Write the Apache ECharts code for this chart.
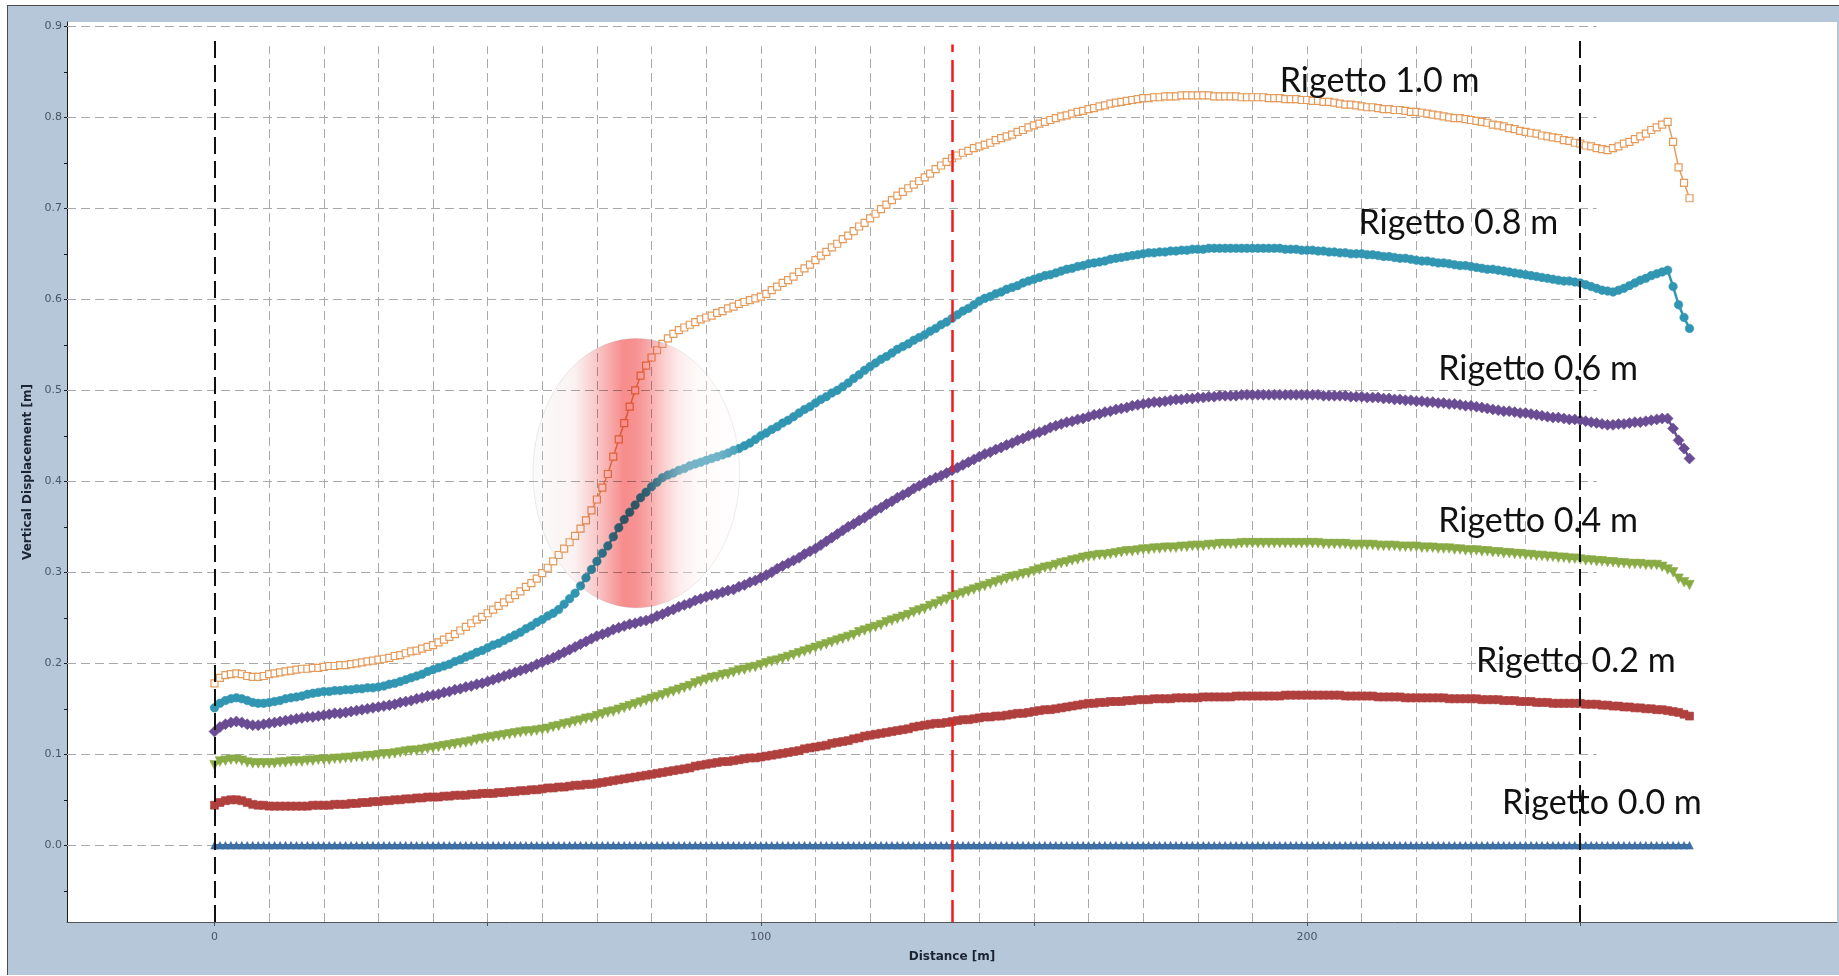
<!DOCTYPE html>
<html>
<head>
<meta charset="utf-8">
<title>Vertical Displacement - Rigetto</title>
<script src="https://cdn.jsdelivr.net/npm/echarts@6/dist/echarts.min.js"></script>
<style>
html,body{margin:0;padding:0;background:#fff;overflow:hidden;}
/* steel-blue frame behind the plot */
.panel{position:absolute;left:7px;top:5px;width:1832px;height:969px;background:#b6c7d9;border-left:1px solid #4d4d4d;border-top:1px solid #4d4d4d;}
#chart{position:absolute;left:0;top:0;width:1839px;height:976px;}
</style>
</head>
<body>
<div class="panel"></div>
<div id="chart"></div>
<script>
/* distance along the profile [m] */
const DIST = [
  0,1,2,3,4,5,6,7,8,9,
  10,11,12,13,14,15,16,17,18,19,
  20,21,22,23,24,25,26,27,28,29,
  30,31,32,33,34,35,36,37,38,39,
  40,41,42,43,44,45,46,47,48,49,
  50,51,52,53,54,55,56,57,58,59,
  60,61,62,63,64,65,66,67,68,69,
  70,71,72,73,74,75,76,77,78,79,
  80,81,82,83,84,85,86,87,88,89,
  90,91,92,93,94,95,96,97,98,99,
  100,101,102,103,104,105,106,107,108,109,
  110,111,112,113,114,115,116,117,118,119,
  120,121,122,123,124,125,126,127,128,129,
  130,131,132,133,134,135,136,137,138,139,
  140,141,142,143,144,145,146,147,148,149,
  150,151,152,153,154,155,156,157,158,159,
  160,161,162,163,164,165,166,167,168,169,
  170,171,172,173,174,175,176,177,178,179,
  180,181,182,183,184,185,186,187,188,189,
  190,191,192,193,194,195,196,197,198,199,
  200,201,202,203,204,205,206,207,208,209,
  210,211,212,213,214,215,216,217,218,219,
  220,221,222,223,224,225,226,227,228,229,
  230,231,232,233,234,235,236,237,238,239,
  240,241,242,243,244,245,246,247,248,249,
  250,251,252,253,254,255,256,257,258,259,
  260,261,262,263,264,265,266,267,268,269,
  270
];

/* vertical displacement for each throw, in mm (converted to m below) */
const R10 = [
  178,184,187,188,189,188,186,185,185,186,
  188,189,190,191,192,193,194,194,195,195,
  196,197,197,198,198,199,200,201,202,203,
  204,205,206,208,209,211,213,214,216,218,
  220,223,226,229,232,236,240,244,248,251,
  255,259,263,267,271,275,279,284,288,293,
  299,305,312,319,326,333,340,348,357,368,
  380,393,408,427,446,464,482,500,516,527,
  536,544,551,557,562,566,569,572,575,578,
  580,582,585,587,590,592,595,597,599,601,
  603,606,610,614,618,621,625,630,634,638,
  643,648,652,657,661,666,670,675,680,684,
  689,694,699,704,709,714,718,722,726,730,
  734,738,743,747,751,755,758,761,763,766,
  768,770,772,775,777,779,781,784,786,789,
  791,793,795,797,799,801,802,804,806,807,
  809,810,812,813,815,816,817,818,819,820,
  821,821,822,822,823,823,823,824,824,824,
  824,824,824,823,823,823,823,823,822,822,
  822,822,822,821,821,821,820,820,820,819,
  819,818,818,817,817,816,815,814,814,813,
  812,811,811,810,809,809,808,808,807,806,
  806,805,804,803,802,801,800,799,799,798,
  797,796,795,794,792,791,790,788,787,785,
  784,783,782,780,779,778,777,775,774,772,
  771,769,768,766,765,764,766,768,771,773,
  776,779,782,786,789,792,795,773,745,728,
  711
];
const R08 = [
  151,156,159,161,162,161,159,157,156,156,
  157,158,159,161,162,163,164,166,167,168,
  169,169,170,170,171,171,172,172,173,173,
  174,175,177,178,180,182,184,186,188,191,
  193,195,197,199,202,204,207,209,212,214,
  217,220,222,225,228,231,234,238,241,245,
  248,252,255,259,265,271,277,285,294,303,
  312,321,329,339,349,358,366,374,382,388,
  394,399,404,407,409,412,414,417,419,421,
  423,425,427,429,431,434,436,439,442,446,
  450,453,457,460,464,467,471,475,479,482,
  486,490,493,497,500,504,508,513,517,522,
  526,530,534,537,541,545,548,551,555,558,
  561,565,568,572,575,579,583,587,590,594,
  598,601,603,606,608,611,613,615,618,620,
  622,624,626,627,629,631,633,634,636,637,
  639,640,641,642,644,645,646,647,648,649,
  650,651,651,652,652,653,653,654,654,655,
  655,655,656,656,656,656,656,656,656,656,
  656,656,656,656,656,656,655,655,655,654,
  654,654,653,653,652,652,651,651,650,650,
  650,649,649,648,647,647,646,645,645,644,
  643,642,642,641,640,640,639,638,637,637,
  636,635,634,633,633,632,631,630,629,628,
  627,626,625,624,623,622,621,620,620,619,
  618,616,614,612,610,609,608,610,612,615,
  618,621,623,626,628,630,632,614,594,580,
  568
];
const R06 = [
  125,130,133,135,136,135,133,132,132,133,
  134,135,136,137,138,139,140,141,141,142,
  143,144,145,145,146,147,148,149,150,151,
  152,153,154,155,157,158,159,161,162,164,
  165,166,168,169,171,172,174,175,177,178,
  180,182,184,186,188,190,192,194,196,199,
  201,204,206,209,212,215,218,221,224,227,
  230,232,234,237,239,241,243,244,246,247,
  249,252,254,257,259,262,264,266,269,271,
  273,275,276,278,280,281,284,286,289,291,
  294,297,300,304,307,310,313,316,320,323,
  326,330,334,338,342,346,350,353,357,360,
  364,368,371,375,378,382,385,388,392,395,
  398,401,404,406,409,412,415,418,421,424,
  427,430,432,435,437,440,442,445,447,450,
  452,454,456,459,461,463,465,466,468,469,
  471,473,474,476,477,479,480,481,483,484,
  485,486,487,487,488,489,490,490,491,491,
  492,492,493,493,494,494,494,494,495,495,
  495,495,495,495,495,495,495,495,495,495,
  495,495,495,494,494,494,494,494,493,493,
  493,492,492,492,491,491,490,490,489,489,
  488,488,487,487,486,486,485,485,484,483,
  483,482,481,480,479,478,477,477,476,475,
  475,474,473,472,471,470,470,469,468,468,
  467,466,465,464,463,462,462,463,463,464,
  465,465,466,467,468,469,469,458,445,436,
  425
];
const R04 = [
  88,92,93,94,94,93,91,90,90,90,
  90,90,91,91,92,92,92,93,93,94,
  94,94,95,95,96,96,97,97,98,98,
  99,100,100,101,102,103,104,104,105,106,
  107,108,109,110,111,112,113,114,116,117,
  118,119,120,121,122,123,124,125,125,126,
  127,128,130,131,133,134,136,137,139,140,
  142,144,146,147,149,151,153,155,157,159,
  161,163,165,167,169,171,173,175,178,180,
  182,184,185,187,188,190,192,193,195,196,
  198,200,202,203,205,207,209,211,213,215,
  217,219,221,223,225,227,229,231,234,236,
  238,240,242,245,247,249,251,253,256,258,
  260,263,265,268,270,273,275,277,279,281,
  283,285,287,289,291,293,295,296,298,299,
  301,303,305,306,308,310,311,313,314,316,
  317,318,319,319,320,321,322,323,323,324,
  325,325,326,326,327,327,327,328,328,329,
  329,329,330,330,331,331,331,331,332,332,
  332,332,332,332,332,332,332,332,332,332,
  332,332,332,331,331,331,331,331,330,330,
  330,330,330,329,329,329,329,328,328,328,
  328,327,327,327,326,326,326,325,325,324,
  324,324,323,323,322,322,321,321,320,320,
  319,319,318,318,317,317,316,316,315,315,
  314,313,313,312,312,311,311,310,310,309,
  309,309,308,308,308,306,303,300,293,289,
  286
];
const R02 = [
  44,47,49,50,50,49,47,45,44,44,
  43,43,43,43,43,43,43,43,44,44,
  44,44,45,45,45,46,46,47,47,48,
  48,49,49,50,50,51,51,52,52,53,
  53,53,54,54,55,55,55,56,56,57,
  57,57,58,58,59,59,60,60,61,61,
  62,63,63,64,64,65,66,66,67,67,
  68,69,70,71,72,73,74,75,76,77,
  78,79,80,81,82,83,84,85,87,88,
  89,90,91,92,92,93,94,95,96,96,
  97,98,99,100,101,102,103,104,106,107,
  108,109,110,112,113,114,115,117,118,120,
  121,122,123,124,125,126,127,128,130,131,
  132,133,134,134,135,136,137,138,138,139,
  140,141,141,142,142,143,144,145,145,146,
  147,148,149,149,150,151,152,153,154,155,
  156,156,157,157,158,158,158,159,159,160,
  160,160,161,161,161,161,162,162,162,162,
  162,163,163,163,163,163,163,164,164,164,
  164,164,164,164,164,164,165,165,165,165,
  165,165,165,165,165,165,165,164,164,164,
  164,164,164,163,163,163,163,163,162,162,
  162,162,162,162,162,162,161,161,161,161,
  161,161,160,160,160,160,159,159,159,158,
  158,158,157,157,157,156,156,156,156,156,
  156,155,155,155,154,154,153,153,152,152,
  151,151,150,150,149,149,148,147,146,144,
  142
];
const R00 = [
  0,0,0,0,0,0,0,0,0,0, 0,0,0,0,0,0,0,0,0,0, 0,0,0,0,0,0,0,0,0,0,
  0,0,0,0,0,0,0,0,0,0, 0,0,0,0,0,0,0,0,0,0, 0,0,0,0,0,0,0,0,0,0,
  0,0,0,0,0,0,0,0,0,0, 0,0,0,0,0,0,0,0,0,0, 0,0,0,0,0,0,0,0,0,0,
  0,0,0,0,0,0,0,0,0,0, 0,0,0,0,0,0,0,0,0,0, 0,0,0,0,0,0,0,0,0,0,
  0,0,0,0,0,0,0,0,0,0, 0,0,0,0,0,0,0,0,0,0, 0,0,0,0,0,0,0,0,0,0,
  0,0,0,0,0,0,0,0,0,0, 0,0,0,0,0,0,0,0,0,0, 0,0,0,0,0,0,0,0,0,0,
  0,0,0,0,0,0,0,0,0,0, 0,0,0,0,0,0,0,0,0,0, 0,0,0,0,0,0,0,0,0,0,
  0,0,0,0,0,0,0,0,0,0, 0,0,0,0,0,0,0,0,0,0, 0,0,0,0,0,0,0,0,0,0,
  0,0,0,0,0,0,0,0,0,0, 0,0,0,0,0,0,0,0,0,0, 0,0,0,0,0,0,0,0,0,0,
  0
];

const NAMES = ['Rigetto 1.0 m', 'Rigetto 0.8 m', 'Rigetto 0.6 m', 'Rigetto 0.4 m', 'Rigetto 0.2 m', 'Rigetto 0.0 m'];
const VALUES = [R10, R08, R06, R04, R02, R00];

/* axis ticks / labels */
const X_LABELS = [0, 100, 200];
const X_TICKS = [0, 50, 100, 150, 200, 250];
const Y_LABELS = [0, 0.1, 0.2, 0.3, 0.4, 0.5, 0.6, 0.7, 0.8, 0.9];
const Y_TICKS = [-0.05, 0, 0.05, 0.1, 0.15, 0.2, 0.25, 0.3, 0.35, 0.4, 0.45, 0.5, 0.55, 0.6, 0.65, 0.7, 0.75, 0.8, 0.85, 0.9];
const GRID_X = [10, 20, 30, 40, 50, 60, 70, 80, 90, 100, 110, 120, 130, 140, 150, 160, 170, 180, 190, 200, 210, 220, 230, 240];
const FAULT_X = [0, 250];   /* black dashed limits */
const SECTION_X = 135;      /* red dashed section */

/* axis window (plot edges) */
const X_MIN = -27, X_MAX = 297;
const Y_MIN = -0.0843, Y_MAX = 0.9047;
const VGRID_TOP = 0.878, HGRID_END = 253;

/* per-series look: markers overlap into a thick band like the original */
const STYLES = [
  { symbol: 'rect', size: 7, color: '#e59a5a', hollow: true },
  { symbol: 'circle', size: 8.5, color: '#3196b2' },
  { symbol: 'diamond', size: 11, color: '#6a4c94' },
  { symbol: 'triangle', size: 9.5, rotate: 180, color: '#89ab45' },
  { symbol: 'rect', size: 8, color: '#b0403e' },
  { symbol: 'triangle', size: 7.5, color: '#3d6fa5' }
];

/* annotation anchors (data space, left / middle of text) */
const NOTE_AT = [[195.0, 0.840], [209.4, 0.684], [224.0, 0.523], [224.0, 0.356], [230.9, 0.202], [235.7, 0.046]];
/* highlighted zone: centre, half-width [m], half-height [m] */
const ZONE = { x: 77.2, y: 0.409, rx: 18.9, ry: 0.148 };

const chart = echarts.init(document.getElementById('chart'), null, { renderer: 'canvas' });

const toPoints = arr => DIST.map((d, i) => [d, arr[i] / 1000]);

const dataSeries = VALUES.map((arr, k) => {
  const s = STYLES[k];
  return {
    type: 'line',
    name: NAMES[k],
    data: toPoints(arr),
    symbol: s.symbol,
    symbolSize: s.size,
    symbolRotate: s.rotate || 0,
    showSymbol: true,
    z: 3,
    silent: true,
    animation: false,
    lineStyle: { color: s.color, width: s.hollow ? 1.5 : 2.5 },
    itemStyle: s.hollow
      ? { color: '#ffffff', borderColor: s.color, borderWidth: 1.2 }
      : { color: s.color, borderColor: s.color, borderWidth: 0.6 },
    emphasis: { disabled: true }
  };
});

/* dashed background grid, limited like in the original figure */
const gridLines = [
  ...GRID_X.map(x => [{ coord: [x, Y_MIN] }, { coord: [x, VGRID_TOP] }]),
  ...Y_LABELS.map(y => [{ coord: [X_MIN, y] }, { coord: [HGRID_END, y] }])
];

const refLines = [
  ...FAULT_X.map(x => [{ coord: [x, Y_MIN], lineStyle: { color: '#111', width: 2, type: [17, 7] } }, { coord: [x, 0.884] }]),
  [{ coord: [SECTION_X, Y_MIN], lineStyle: { color: '#ee1c1c', width: 2.5, type: [22, 8] } }, { coord: [SECTION_X, 0.880] }]
];

const axisFont = { fontFamily: 'DejaVu Sans', fontSize: 11, color: '#4a5566' };

chart.setOption({
  animation: false,
  grid: {
    left: 67, right: 2, top: 22, bottom: 54,
    show: true, backgroundColor: '#ffffff', borderWidth: 0,
    outerBoundsMode: 'none'
  },
  xAxis: {
    type: 'value', min: X_MIN, max: X_MAX,
    name: 'Distance [m]', nameLocation: 'middle', nameGap: 29,
    nameTextStyle: { fontFamily: 'DejaVu Sans', fontSize: 12, fontWeight: 'bold', color: '#1b2433' },
    axisLine: { show: true, onZero: false, lineStyle: { color: '#555', width: 1 } },
    axisTick: { show: true, customValues: X_TICKS, length: 4, lineStyle: { color: '#555' } },
    axisLabel: { customValues: X_LABELS, margin: 10, ...axisFont },
    splitLine: { show: false }
  },
  yAxis: {
    type: 'value', min: Y_MIN, max: Y_MAX,
    name: 'Vertical Displacement [m]', nameLocation: 'middle', nameGap: 23,
    nameTextStyle: { fontFamily: 'DejaVu Sans', fontSize: 12, fontWeight: 'bold', color: '#1b2433' },
    axisLine: { show: true, onZero: false, lineStyle: { color: '#1a1a1a', width: 1 } },
    axisTick: { show: true, customValues: Y_TICKS, length: 3, lineStyle: { color: '#1a1a1a' } },
    axisLabel: { customValues: Y_LABELS, margin: 5, formatter: v => v.toFixed(1), ...axisFont },
    splitLine: { show: false }
  },
  series: [
    {
      type: 'line', name: 'grid', data: [], silent: true, z: 1,
      markLine: {
        silent: true, symbol: 'none', z: 1, animation: false,
        label: { show: false },
        lineStyle: { color: '#a9a9a9', width: 1, type: [9, 5] },
        emphasis: { disabled: true },
        data: gridLines
      }
    },
    ...dataSeries,
    {
      type: 'line', name: 'limits', data: [], silent: true, z: 6,
      markLine: {
        silent: true, symbol: 'none', z: 6, animation: false,
        label: { show: false },
        emphasis: { disabled: true },
        data: refLines
      }
    }
  ]
});

/* overlays positioned from data coordinates */
function drawOverlays () {
  const px = p => chart.convertToPixel({ gridIndex: 0 }, p);
  const c = px([ZONE.x, ZONE.y]);
  const e = px([ZONE.x + ZONE.rx, ZONE.y + ZONE.ry]);
  const shape = { cx: c[0], cy: c[1], rx: e[0] - c[0], ry: c[1] - e[1] };
  const elements = [{
    /* red band, multiplied over the curves */
    type: 'ellipse', z: 10, silent: true, shape,
    style: {
      blend: 'multiply',
      stroke: 'rgba(0,0,0,0.08)', lineWidth: 1,
      fill: {
        type: 'linear', x: 0, y: 0, x2: 1, y2: 0,
        colorStops: [
          { offset: 0, color: '#fafafa' },
          { offset: 0.2, color: '#fbf2f2' },
          { offset: 0.3, color: '#f9cccc' },
          { offset: 0.44, color: '#f78c8c' },
          { offset: 0.5, color: '#f79292' },
          { offset: 0.6, color: '#fab5b5' },
          { offset: 0.7, color: '#fde0e0' },
          { offset: 0.8, color: '#fff8f8' },
          { offset: 1, color: '#ffffff' }
        ]
      }
    }
  }, {
    /* light wash on the right half */
    type: 'ellipse', z: 11, silent: true, shape,
    style: {
      fill: {
        type: 'linear', x: 0, y: 0, x2: 1, y2: 0,
        colorStops: [
          { offset: 0, color: 'rgba(255,255,255,0.15)' },
          { offset: 0.25, color: 'rgba(255,255,255,0)' },
          { offset: 0.55, color: 'rgba(255,255,255,0)' },
          { offset: 0.72, color: 'rgba(255,255,255,0.35)' },
          { offset: 0.9, color: 'rgba(255,255,255,0.3)' },
          { offset: 1, color: 'rgba(255,255,255,0.1)' }
        ]
      }
    }
  }];
  NOTE_AT.forEach((p, k) => {
    const q = px(p);
    elements.push({
      type: 'text', z: 20, silent: true, x: q[0], y: q[1],
      style: { text: NAMES[k], fill: '#111', fontFamily: 'Lato', fontSize: 34, align: 'left', verticalAlign: 'middle' }
    });
  });
  chart.setOption({ graphic: { elements } });
}
drawOverlays();

window.addEventListener('resize', () => { chart.resize(); drawOverlays(); });
</script>
</body>
</html>
